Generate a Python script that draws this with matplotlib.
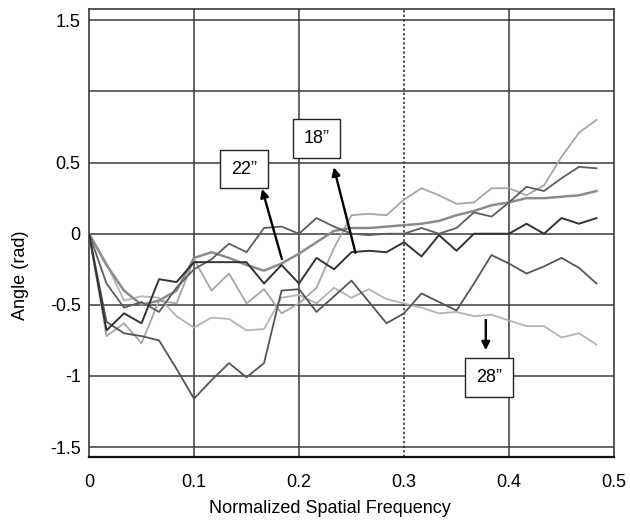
import numpy as np
import matplotlib
matplotlib.use("Agg")
import matplotlib.pyplot as plt

plt.rcParams['font.family'] = ['Liberation Sans', 'DejaVu Sans']

# frequency samples: k/60, k = 0..29
freq = np.arange(30) / 60.0

# phase angle curves (rad)
deep_dip = [0, -0.62, -0.70, -0.72, -0.75, -0.95, -1.16, -1.03, -0.91, -1.01,
            -0.91, -0.40, -0.39, -0.55, -0.44, -0.33, -0.48, -0.63, -0.56, -0.42,
            -0.48, -0.54, -0.35, -0.15, -0.21, -0.28, -0.23, -0.17, -0.24, -0.35]
black_line = [0, -0.68, -0.56, -0.63, -0.32, -0.34, -0.20, -0.20, -0.20, -0.20,
              -0.35, -0.22, -0.35, -0.17, -0.25, -0.13, -0.12, -0.13, -0.06, -0.16,
              -0.01, -0.12, 0.0, 0.0, 0.0, 0.07, 0.0, 0.11, 0.07, 0.11]
top_light = [0, -0.72, -0.63, -0.77, -0.47, -0.49, -0.18, -0.40, -0.28, -0.49,
             -0.39, -0.56, -0.49, -0.38, -0.10, 0.13, 0.14, 0.13, 0.24, 0.32,
             0.27, 0.21, 0.22, 0.32, 0.32, 0.27, 0.34, 0.54, 0.71, 0.80]
smooth_mid = [0, -0.22, -0.40, -0.50, -0.47, -0.40, -0.17, -0.13, -0.17, -0.22,
              -0.26, -0.21, -0.14, -0.06, 0.02, 0.04, 0.04, 0.05, 0.06, 0.07,
              0.09, 0.13, 0.16, 0.20, 0.22, 0.25, 0.25, 0.26, 0.27, 0.30]
dark_gray = [0, -0.35, -0.52, -0.48, -0.55, -0.38, -0.25, -0.18, -0.07, -0.13,
             0.04, 0.05, 0.0, 0.11, 0.05, 0.0, -0.01, 0.0, 0.0, 0.04,
             0.0, 0.04, 0.15, 0.12, 0.22, 0.33, 0.30, 0.39, 0.47, 0.46]
light_28 = [0, -0.21, -0.47, -0.44, -0.45, -0.58, -0.66, -0.59, -0.60, -0.68,
            -0.67, -0.45, -0.43, -0.49, -0.38, -0.45, -0.39, -0.46, -0.49, -0.52,
            -0.56, -0.55, -0.58, -0.57, -0.61, -0.65, -0.65, -0.73, -0.70, -0.78]

ytick_vals = [-1.5, -1, -0.5, 0, 0.5, 1, 1.5]
ytick_text = ['-1.5', '-1', '-0.5', '0', '0.5', '', '1.5']
xtick_vals = [0, 0.1, 0.2, 0.3, 0.4, 0.5]
xtick_text = ['0', '0.1', '0.2', '0.3', '0.4', '0.5']

fig = plt.figure(figsize=(6.3, 5.23), dpi=100)
ax = fig.add_axes([0.1413, 0.1262, 0.8333, 0.8566])

# grid
for yv in ytick_vals:
    ax.axhline(yv, color='#3a3a3a', lw=1.1, zorder=1)
for xv in xtick_vals[1:-1]:
    if xv == 0.3:
        ax.axvline(xv, color='#222222', lw=1.1, ls=(0, (1.5, 1.5)), zorder=1)
    else:
        ax.axvline(xv, color='#3a3a3a', lw=1.1, zorder=1)

ax.plot(freq, light_28, color='#b4b4b4', lw=1.3, zorder=3)
ax.plot(freq, top_light, color='#a6a6a6', lw=1.3, zorder=3)
ax.plot(freq, smooth_mid, color='#8c8c8c', lw=1.8, zorder=3)
ax.plot(freq, deep_dip, color='#555555', lw=1.3, zorder=3)
ax.plot(freq, dark_gray, color='#5e5e5e', lw=1.3, zorder=3)
ax.plot(freq, black_line, color='#333333', lw=1.4, zorder=4)

# labelled arrows
box = dict(boxstyle='square,pad=0.6', fc='white', ec='#222222', lw=1.0)
arr = dict(arrowstyle='-|>', color='black', lw=1.7, mutation_scale=12,
           shrinkA=0, shrinkB=0)
ax.annotate('', xy=(0.1648, 0.315), xytext=(0.1837, -0.178), arrowprops=arr, zorder=6)
ax.text(0.1474, 0.454, '22\u201d', fontsize=13, ha='center', va='center', bbox=box, zorder=6)
ax.annotate('', xy=(0.2331, 0.467), xytext=(0.2538, -0.134), arrowprops=arr, zorder=6)
ax.text(0.2166, 0.669, '18\u201d', fontsize=13, ha='center', va='center', bbox=box, zorder=6)
ax.annotate('', xy=(0.3779, -0.819), xytext=(0.3779, -0.606), arrowprops=arr, zorder=6)
ax.text(0.381, -1.012, '28\u201d', fontsize=13, ha='center', va='center', bbox=box, zorder=6)

ax.set_xlim(0, 0.5)
ax.set_ylim(-1.57, 1.58)
ax.set_xticks(xtick_vals)
ax.set_xticklabels(xtick_text)
ax.set_yticks(ytick_vals)
ax.set_yticklabels(ytick_text)
ax.tick_params(axis='both', length=0, labelsize=13)
ax.tick_params(axis='x', pad=12)
ax.tick_params(axis='y', pad=6)

for side in ['left', 'top', 'right']:
    ax.spines[side].set_color('#3a3a3a')
    ax.spines[side].set_linewidth(1.2)
ax.spines['bottom'].set_color('#111111')
ax.spines['bottom'].set_linewidth(1.6)

ax.set_xlabel('Normalized Spatial Frequency', fontsize=13)
ax.xaxis.set_label_coords(0.459, -0.097)
ax.set_ylabel('Angle (rad)', fontsize=13)
ax.yaxis.set_label_coords(-0.115, 0.406)

fig.savefig('out.png', dpi=100)
